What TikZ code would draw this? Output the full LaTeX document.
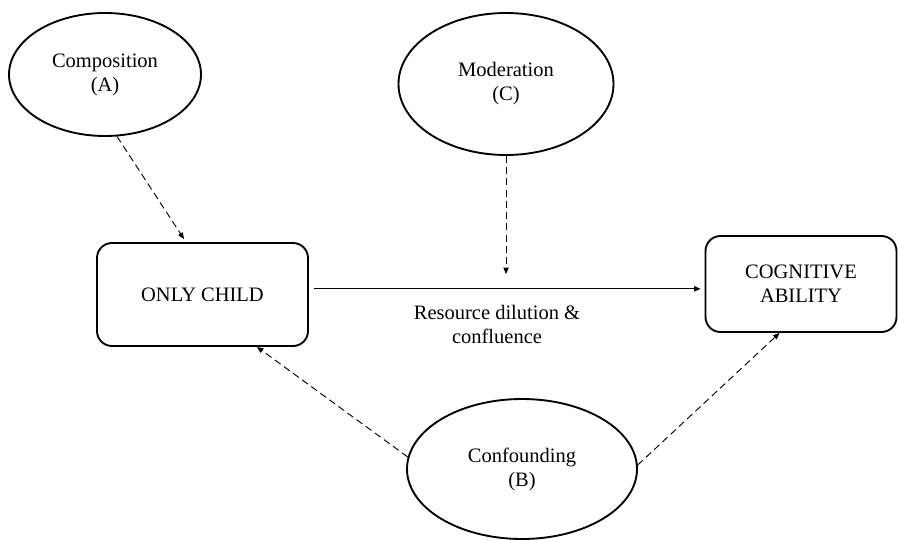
\documentclass[tikz,border=0pt]{standalone}
\usepackage{fontspec}
\setmainfont{Liberation Serif}
\usetikzlibrary{shapes.geometric,arrows.meta}
\begin{document}
\begin{tikzpicture}[line cap=butt, line join=round,
    font=\fontsize{17.5}{20.5}\selectfont,
    factor/.style={ellipse, draw, line width=1.6pt, inner sep=0pt, align=center},
    varbox/.style={rectangle, rounded corners=0.45cm, draw, line width=1.6pt, inner sep=0pt, align=center},
    link/.style={line width=0.8pt, -{Triangle[length=5.5pt,width=4.5pt]}},
    dlink/.style={link, dash pattern=on 6pt off 3.6pt}]
  \useasboundingbox (0,0) rectangle (26.94,-16.2);
  \node[factor, minimum width=5.76cm, minimum height=3.69cm] (comp) at (3.15,-2.235) {Composition\\(A)};
  \node[factor, minimum width=6.45cm, minimum height=4.26cm] (mod) at (15.18,-2.52) {Moderation\\(C)};
  \node[factor, minimum width=6.9cm, minimum height=4.20cm] (conf) at (15.66,-14.07) {Confounding\\(B)};
  \node[varbox, minimum width=6.33cm, minimum height=3.09cm] (only) at (6.075,-8.835) {ONLY CHILD};
  \node[varbox, minimum width=5.73cm, minimum height=2.88cm] (cog) at (24.03,-8.52) {COGNITIVE\\ABILITY};
  \node[align=center] (res) at (14.91,-9.72) {Resource dilution \&\\confluence};
  \coordinate (modend) at (15.18,-8.22);
  \draw[link, shorten <=0.15cm, shorten >=0.12cm] ([yshift=0.17cm]only.east) -- ([yshift=0.17cm]only.east -| cog.west);
  \draw[dlink] (comp.-79) -- ([xshift=-0.555cm, yshift=0.09cm]only.north);
  \draw[dlink] (mod.south) -- (modend);
  \draw[dlink] (conf.174) -- ([xshift=1.635cm]only.south);
  \draw[dlink] (conf.2) -- ([xshift=-0.645cm]cog.south);
\end{tikzpicture}
\end{document}
